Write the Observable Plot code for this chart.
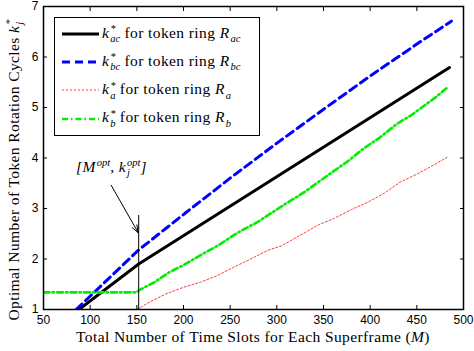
<!DOCTYPE html>
<html><head><meta charset="utf-8">
<script src="https://cdn.jsdelivr.net/npm/d3@7"></script>
<script src="https://cdn.jsdelivr.net/npm/@observablehq/plot@0.6"></script>
<style>
body{margin:0;background:#fff;}
#wrap{position:relative;width:474px;height:351px;background:#fff;}
.serif{font-family:"Liberation Serif","DejaVu Serif",serif;color:#000;letter-spacing:0.4px;}
.ss{display:inline-block;vertical-align:-0.42em;line-height:1;font-size:0.68em;text-align:left;font-style:italic;margin-left:1px;letter-spacing:0;}
.ss span{display:block;height:0.95em;}
#legend{position:absolute;left:54px;top:17px;width:204px;height:115px;border:1.5px solid #000;background:#fff;padding-top:2px;box-sizing:content-box;}
.row{height:28.2px;display:flex;align-items:center;font-size:15.5px;white-space:nowrap;}
.row svg{margin-left:7px;margin-right:3px;flex:none;}
#ylab{position:absolute;left:15px;top:170px;transform:translate(-50%,-50%) rotate(-90deg);font-size:15.5px;white-space:nowrap;}
#xlab{position:absolute;left:253px;top:337px;transform:translate(-50%,-50%);font-size:15.5px;white-space:nowrap;}
#ann{position:absolute;left:76px;top:158px;font-size:15.5px;font-style:italic;white-space:nowrap;}
</style></head><body>
<div id="wrap"></div>
<script>
// ---- data ----
const xTicks = [50,100,150,200,250,300,350,400,450,500];
const yTicks = [1,2,3,4,5,6,7];

const M_ac = [88, 152, 485];
const k_ac = [1.0, 1.90, 5.79];

const M_bc = [85, 152, 202, 252, 302, 352, 402, 452, 487];
const k_bc = [1.0, 2.18, 2.91, 3.63, 4.32, 4.99, 5.65, 6.28, 6.71];

const M_a = [82, 150, 155, 161, 180, 200, 218, 235, 254, 270, 290, 305, 325, 345, 361, 380, 397, 415, 432, 450, 468, 483];
const k_a = [1.0, 1.0, 1.05, 1.12, 1.30, 1.44, 1.54, 1.66, 1.84, 1.98, 2.17, 2.26, 2.47, 2.68, 2.80, 2.98, 3.12, 3.30, 3.52, 3.68, 3.86, 4.02];

const M_b = [50, 150, 152, 168, 185, 200, 218, 238, 258, 280, 304, 330, 357, 375, 393, 410, 429, 445, 456, 470, 483];
const k_b = [1.34, 1.34, 1.38, 1.53, 1.74, 1.88, 2.07, 2.28, 2.52, 2.74, 3.03, 3.33, 3.69, 3.92, 4.19, 4.40, 4.68, 4.86, 5.01, 5.20, 5.40];

const optM = 152, optK = 2.86;
const arrowFrom = [122.5, 3.46];
const arrowTo = [151.5, 2.52];

const seriesNames = ["ac", "bc", "a", "b"];
const seriesRing = ["ac", "bc", "a", "b"];
const seriesColors = ["#000000", "#0000ff", "#ff3b3b", "#00ee00"];
const seriesWidths = [3, 3, 1, 2.6];
const seriesDash = [null, "8,5", "2,2", "6,3,1.5,3"];

// ---- build ----
const zip = (xs, ys) => xs.map((x, i) => ({M: x, k: ys[i]}));
const tables = [zip(M_ac, k_ac), zip(M_bc, k_bc), zip(M_a, k_a), zip(M_b, k_b)];

const lineMarks = tables.map((t, i) => Plot.line(t, {
  x: "M", y: "k", stroke: seriesColors[i], strokeWidth: seriesWidths[i],
  strokeDasharray: seriesDash[i], clip: true
}));

const chart = Plot.plot({
  width: 474, height: 351,
  marginLeft: 43, marginRight: 11, marginTop: 6, marginBottom: 42,
  style: {fontFamily: "'Liberation Sans', Arial, sans-serif", fontSize: "12px", color: "#000", background: "#fff"},
  x: {domain: [50, 500], label: null},
  y: {domain: [1, 7], label: null},
  marks: [
    ...lineMarks,
    Plot.ruleX([optM], {y1: 1, y2: optK, stroke: "#000", strokeWidth: 1}),
    Plot.arrow([{x1: arrowFrom[0], y1: arrowFrom[1], x2: arrowTo[0], y2: arrowTo[1]}],
      {x1: "x1", y1: "y1", x2: "x2", y2: "y2", bend: 0, stroke: "#000", strokeWidth: 1, headLength: 12, headAngle: 40}),
    Plot.axisX({ticks: xTicks, tickSize: -4, tickPadding: 10, tickFormat: d => String(d), label: null}),
    Plot.axisX({ticks: xTicks, anchor: "top", tickSize: -4, tickFormat: () => "", label: null}),
    Plot.axisY({ticks: yTicks, tickSize: -4, tickPadding: 9, tickFormat: d => String(d), label: null}),
    Plot.axisY({ticks: yTicks, anchor: "right", tickSize: -4, tickFormat: () => "", label: null}),
    Plot.frame({stroke: "#000", strokeWidth: 1.5})
  ]
});

const wrap = document.getElementById("wrap");
wrap.appendChild(chart);

// legend
const legend = document.createElement("div");
legend.id = "legend";
legend.className = "serif";
seriesNames.forEach((s, i) => {
  const row = document.createElement("div");
  row.className = "row";
  const dash = seriesDash[i] ? `stroke-dasharray="${seriesDash[i]}"` : "";
  row.innerHTML = `<svg width="37" height="6"><line x1="0" y1="3" x2="37" y2="3" stroke="${seriesColors[i]}" stroke-width="${seriesWidths[i]}" ${dash}/></svg>` +
    `<span><i>k</i><span class="ss"><span>*</span><span>${s}</span></span> for token ring <i>R</i><span class="ss"><span>&nbsp;</span><span>${seriesRing[i]}</span></span></span>`;
  legend.appendChild(row);
});
wrap.appendChild(legend);

const ylab = document.createElement("div");
ylab.id = "ylab"; ylab.className = "serif";
ylab.innerHTML = `Optimal Number of Token Rotation Cycles <i>k</i><span class="ss"><span>*</span><span>j</span></span>`;
wrap.appendChild(ylab);

const xlab = document.createElement("div");
xlab.id = "xlab"; xlab.className = "serif";
xlab.innerHTML = `Total Number of Time Slots for Each Superframe (<i>M</i>)`;
wrap.appendChild(xlab);

const ann = document.createElement("div");
ann.id = "ann"; ann.className = "serif";
ann.innerHTML = `[M<span class="ss"><span>opt</span><span>&nbsp;</span></span>, k<span class="ss"><span>opt</span><span>j</span></span>]`;
wrap.appendChild(ann);
</script>
</body></html>
